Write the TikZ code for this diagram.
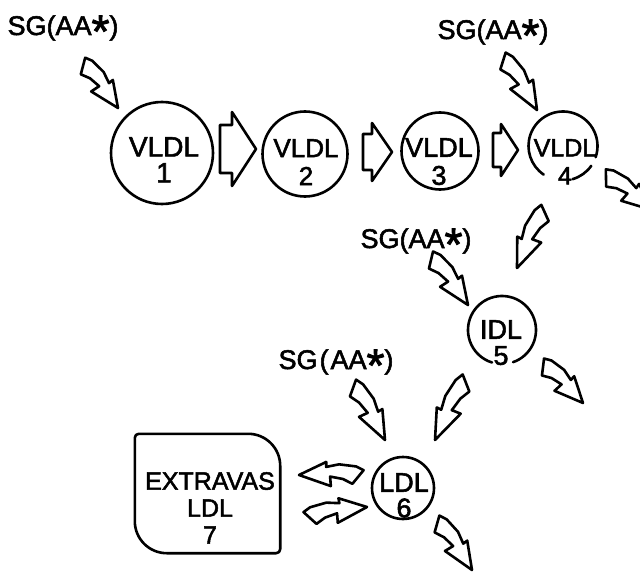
\documentclass[tikz,border=0pt]{standalone}
\usepackage{fontspec}
\setmainfont{Liberation Sans}[FakeBold=2]

\newcommand\fsz[2]{\fontsize{#1}{#2}\selectfont}
% large raised asterisk of the SG(AA*) labels
\newcommand\starmark{\raisebox{-0.45em}{\scalebox{1.7}{*}}}

\tikzset{
  ink/.style={line width=2.6pt, line join=round, line cap=round},
  ring/.style={circle, draw, ink, inner sep=0pt},
  spot/.style={circle, inner sep=0pt},
  word/.style={inner sep=0pt, align=center},
  blockarrow/.style={ink, fill=white},
}

% bent block arrow from tail coordinate #2 to tip coordinate #3; #1 = side of the bend
\newcommand\squig[3][1]{%
  \pgfmathanglebetweenpoints{\pgfpointanchor{#2}{center}}{\pgfpointanchor{#3}{center}}%
  \let\sqang\pgfmathresult
  \pgfpointdiff{\pgfpointanchor{#2}{center}}{\pgfpointanchor{#3}{center}}%
  \pgfgetlastxy\sqdx\sqdy
  \pgfmathsetmacro\sqs{veclen(\sqdx,\sqdy)/55}%
  \begin{scope}[shift={(#2)}, rotate=\sqang, x=\sqs pt, y=#1pt]
    \draw[blockarrow] (-5,7) -- (5,-7) -- (14,-2.5) -- (26,-0.5) -- (25,-10)
      -- (55,0) -- (30,14) -- (30,9) -- (18,12) -- (2,10.5) -- cycle;
  \end{scope}}

% straight chevron arrow: tail, tip, shaft length, shaft half height, head half height
\newcommand\chev[5]{%
  \draw[blockarrow] ([yshift=#4pt]#1) -- ([xshift=#3pt,yshift=#4pt]#1)
    -- ([xshift=#3pt,yshift=#5pt]#1) -- (#2)
    -- ([xshift=#3pt,yshift=-#5pt]#1) -- ([xshift=#3pt,yshift=-#4pt]#1)
    -- ([yshift=-#4pt]#1) -- cycle;}

\begin{document}
\begin{tikzpicture}[x=1pt, y=-1pt]
\path[use as bounding box] (0,0) rectangle (640,572);
\fill[white] (0,0) rectangle (640,572);
\clip (0,0) rectangle (640,572);

% lipoprotein particles
\node[ring, minimum size=102pt] (v1) at (162,153) {};
\node[ring, minimum size=85pt]  (v2) at (305,154) {};
\node[ring, minimum size=77pt]  (v3) at (440,151) {};
\node[spot, minimum size=69pt]  (v4) at (563,146) {};
\node[spot, minimum size=68pt]  (i5) at (502,330) {};
\node[ring, minimum size=62pt]  (l6) at (403,488) {};
\node[word, minimum width=145pt, minimum height=119pt] (ex) at (207.5,493.5) {};

\node[word, font=\fsz{28}{26}, anchor=north] (v1t) at (164,137) {VLDL\\1};
\node[word, font=\fsz{26}{28}, anchor=north] (v2t) at (306,139) {VLDL\\2};
\node[word, font=\fsz{27}{28}, anchor=north] (v3t) at (439,138) {VLDL\\3};
\node[word, font=\fsz{25}{28}, anchor=north] (v4t) at (565,139) {VLDL\\4};
\node[word, font=\fsz{27}{26}, anchor=north] (i5t) at (501,320) {IDL\\5};
\node[word, font=\fsz{27}{25.5}, anchor=north] (l6t) at (404,473) {LDL\\6};
\node[word, font=\fsz{25}{27}, anchor=north] (ext) at (210,472) {EXTRAVAS\\LDL\\7};

% open rings and the extravascular pool outline
\begin{scope}[y=1pt]
  \draw[ink] ([shift={(-19:34.5pt)}]v4.center) arc[start angle=-19, end angle=236, radius=34.5pt];
  \draw[ink] ([shift={(-35:34.5pt)}]v4.center) arc[start angle=-35, end angle=-74, radius=34.5pt];
  \draw[ink] ([shift={(-71:34pt)}]i5.center) arc[start angle=-71, end angle=253, radius=34pt];
  \draw[ink] ([yshift=-4pt]ex.north west) arc[start angle=180, end angle=90, radius=4pt]
    -- ([xshift=-32pt]ex.north east) arc[start angle=90, end angle=0, radius=32pt]
    -- ([yshift=4pt]ex.south east) arc[start angle=0, end angle=-90, radius=4pt]
    -- ([xshift=32pt]ex.south west) arc[start angle=270, end angle=180, radius=32pt]
    -- cycle;
\end{scope}

% SG(AA*) inputs
\node[word, font=\fsz{27}{27}, anchor=base] (s1) at (63,35)  {SG(AA\starmark)};
\node[word, font=\fsz{27}{27}, anchor=base] (s2) at (493,39) {SG(AA\starmark)};
\node[word, font=\fsz{27}{27}, anchor=base] (s3) at (416,248) {SG(AA\starmark)};
\node[word, font=\fsz{27}{27}, anchor=base] (s4) at (336,369) {SG\hspace{2pt}(\hspace{2pt}AA\starmark)};

% arrow end points
\coordinate (a1t) at (83,66);   \coordinate (a1h) at (118,108);
\coordinate (a2t) at (503,61);  \coordinate (a2h) at (537,110);
\coordinate (a3t) at (606,178); \coordinate (a3h) at (652,210);
\coordinate (a4t) at (545,213); \coordinate (a4h) at (517,268);
\coordinate (a5t) at (431,260); \coordinate (a5h) at (468,305);
\coordinate (a6t) at (543,367); \coordinate (a6h) at (583,403);
\coordinate (a7t) at (353,388); \coordinate (a7h) at (385,440);
\coordinate (a8t) at (466,383); \coordinate (a8h) at (435,440);
\coordinate (a9t) at (358,477); \coordinate (a9h) at (299,475);
\coordinate (a10t) at (310,518); \coordinate (a10h) at (367,507);
\coordinate (a11t) at (437,524); \coordinate (a11h) at (472,570);

\coordinate (c1t) at (220,149); \coordinate (c1h) at (256,149);
\coordinate (c2t) at (363,152); \coordinate (c2h) at (392,152);
\coordinate (c3t) at (493,150); \coordinate (c3h) at (518,150);

% conversion cascade
\chev{c1t}{c1h}{12}{24}{37}
\chev{c2t}{c2h}{9}{18}{29}
\chev{c3t}{c3h}{8}{17}{26}

\squig{a1t}{a1h}
\squig{a2t}{a2h}
\squig{a3t}{a3h}
\squig[-1]{a4t}{a4h}
\squig{a5t}{a5h}
\squig{a6t}{a6h}
\squig{a7t}{a7h}
\squig[-1]{a8t}{a8h}
\squig[-1]{a9t}{a9h}
\squig{a10t}{a10h}
\squig{a11t}{a11h}
\end{tikzpicture}
\end{document}
